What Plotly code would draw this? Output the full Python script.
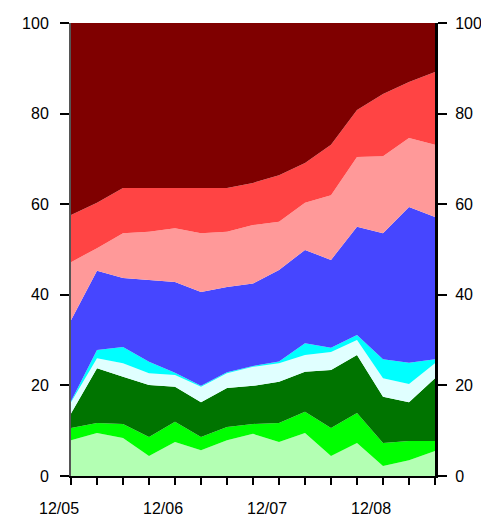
import plotly.graph_objects as go

quarters = ["12/05", "3/06", "6/06", "9/06", "12/06", "3/07", "6/07", "9/07",
            "12/07", "3/08", "6/08", "9/08", "12/08", "3/09", "6/09"]
year_labels = ["12/05", "12/06", "12/07", "12/08"]

light_green = [7.9, 9.5, 8.4, 4.4, 7.5, 5.7, 7.9, 9.3, 7.5, 9.5, 4.4, 7.3, 2.2, 3.5, 5.5]
bright_green = [2.7, 2.2, 3.1, 4.2, 4.5, 2.9, 2.9, 2.2, 4.2, 4.7, 6.2, 6.6, 5.1, 4.2, 2.2]
dark_green = [3.2, 12.1, 10.4, 11.5, 7.7, 7.7, 8.6, 8.4, 9.1, 8.8, 12.8, 12.8, 10.2, 8.6, 13.9]
light_cyan = [2.5, 2.2, 3.0, 2.6, 2.6, 3.4, 3.3, 4.2, 4.1, 3.7, 4.0, 3.3, 4.1, 4.0, 3.3]
cyan = [0.2, 1.8, 3.6, 2.5, 0.5, 0.2, 0.2, 0.2, 0.4, 2.6, 0.9, 1.1, 4.2, 4.7, 0.9]
blue = [17.9, 17.5, 15.2, 18.1, 20.0, 20.7, 18.8, 18.2, 20.2, 20.6, 19.4, 23.9, 27.8, 34.4, 31.4]
pink = [12.8, 5.0, 9.9, 10.6, 11.9, 13.0, 12.2, 12.9, 10.6, 10.4, 14.3, 15.4, 17.0, 15.2, 15.9]
red = [10.4, 10.0, 10.0, 9.7, 8.9, 10.0, 9.7, 9.3, 10.3, 8.8, 11.1, 10.4, 13.7, 12.4, 16.1]
dark_red = [42.4, 39.7, 36.4, 36.4, 36.4, 36.4, 36.4, 35.3, 33.6, 30.9, 26.9, 19.2, 15.7, 13.0, 10.8]

series = [
    ("Light green", light_green, "#b3ffb3"),
    ("Green", bright_green, "#00ff00"),
    ("Dark green", dark_green, "#007400"),
    ("Light cyan", light_cyan, "#e0ffff"),
    ("Cyan", cyan, "#00ffff"),
    ("Blue", blue, "#4646ff"),
    ("Pink", pink, "#ff9999"),
    ("Red", red, "#ff4444"),
    ("Dark red", dark_red, "#7f0000"),
]

x = list(range(len(quarters)))
fig = go.Figure()
for name, vals, col in series:
    fig.add_trace(go.Scatter(
        x=x, y=vals, name=name, stackgroup="one", mode="lines",
        line=dict(width=0, color=col), fillcolor=col, showlegend=False,
        hoverinfo="skip"))

# invisible trace to activate the right-hand axis
fig.add_trace(go.Scatter(x=x, y=light_green, yaxis="y2", mode="lines",
                         line=dict(width=0), opacity=0, showlegend=False,
                         hoverinfo="skip"))

ticktext = [q if q in year_labels else "" for q in quarters]
font = dict(family="Liberation Sans, Arial", size=16, color="black")

# page body adds an 8px offset, so the figure is sized to fit the window
fig.update_layout(
    width=481, height=510,
    margin=dict(l=63, r=54, t=15, b=42, autoexpand=False),
    paper_bgcolor="white", plot_bgcolor="white",
    xaxis=dict(range=[0, len(quarters) - 1], tickmode="array", tickvals=x,
               ticktext=ticktext, ticks="outside", ticklen=7, tickwidth=2,
               tickcolor="black", showline=True, linecolor="black", linewidth=2,
               showgrid=False, zeroline=False, tickfont=font, automargin=False,
               ticklabelshift=-12, ticklabelstandoff=10),
    yaxis=dict(range=[0, 100], tickvals=[0, 20, 40, 60, 80, 100],
               ticks="outside", ticklen=9, tickwidth=2, tickcolor="black",
               showline=True, linecolor="#555555", linewidth=2, showgrid=False,
               zeroline=False, tickfont=font, ticklabelstandoff=8,
               automargin=False),
    yaxis2=dict(range=[0, 100], overlaying="y", side="right",
                tickvals=[0, 20, 40, 60, 80, 100], ticks="outside", ticklen=9,
                tickwidth=2, tickcolor="black", showline=True,
                linecolor="black", linewidth=3, showgrid=False, zeroline=False,
                tickfont=font, ticklabelstandoff=5, automargin=False),
)

fig.write_html("out.html")
